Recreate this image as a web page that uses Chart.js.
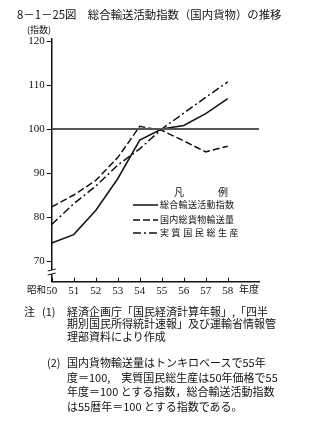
<!DOCTYPE html>
<html>
<head>
<meta charset="utf-8">
<script src="https://cdn.jsdelivr.net/npm/chart.js@4/dist/chart.umd.min.js"></script>
<style>
  body { margin: 0; background: #fff; width: 313px; height: 423px; overflow: hidden; position: relative; font-family: "Noto Sans CJK JP", sans-serif; color: #111; }
  #wrap { position: absolute; left: 0; top: 0; width: 313px; height: 300px; }
  .t { position: absolute; white-space: nowrap; line-height: 1; }
  #title { left: 17px; top: 9px; font-size: 11.4px; }
  #unit { left: 27px; top: 25px; font-size: 9px; }
  #showa { left: 27px; top: 284.5px; font-size: 9.5px; }
  #nendo { left: 239px; top: 284px; font-size: 10px; }
  #lgTitle { left: 174px; top: 187px; font-size: 10px; letter-spacing: 1px; }
  .lg { left: 160px; font-size: 9px; letter-spacing: 0.3px; }
  .note { font-size: 11px; }
</style>
</head>
<body>
<div id="wrap"><canvas id="chart" width="313" height="300"></canvas></div>
<div class="t" id="title">8－1－25図　総合輸送活動指数（国内貨物）の推移</div>
<div class="t" id="unit">(指数)</div>
<div class="t" id="showa">昭和</div>
<div class="t" id="nendo">年度</div>
<div class="t" id="lgTitle">凡　　　例</div>
<div class="t lg" style="top:200px">総合輸送活動指数</div>
<div class="t lg" style="top:215px">国内総貨物輸送量</div>
<div class="t lg" style="top:228px;letter-spacing:2.6px">実質国民総生産</div>
<div class="t note" style="left:24px;top:306px">注</div>
<div class="t note" style="left:42px;top:306px">(1)</div>
<div class="t note" style="left:67px;top:306px">経済企画庁「国民経済計算年報」,「四半</div>
<div class="t note" style="left:67px;top:318px">期別国民所得統計速報」及び運輸省情報管</div>
<div class="t note" style="left:67px;top:331px">理部資料により作成</div>
<div class="t note" style="left:47px;top:357px">(2)</div>
<div class="t note" style="left:67px;top:357px">国内貨物輸送量はトンキロベースで55年</div>
<div class="t note" style="left:67px;top:372px">度＝100,　実質国民総生産は50年価格で55</div>
<div class="t note" style="left:67px;top:386px">年度＝100 とする指数，総合輸送活動指数</div>
<div class="t note" style="left:67px;top:401px">は55暦年＝100 とする指数である。</div>
<script>
// 昭和50〜58年度
const years = [50, 51, 52, 53, 54, 55, 56, 57, 58];
const transportIndex = [74.1, 76.0, 81.5, 88.7, 97.5, 100, 100.8, 103.5, 106.9];
const freightVolume = [82.3, 85.0, 88.3, 93.5, 100.6, 99.7, 97.3, 94.8, 96.1];
const realGnp = [78.3, 83.0, 87.0, 91.8, 95.5, 100, 103.6, 107.2, 110.7];
const yTicks = [70, 80, 90, 100, 110, 120];
const baseValue = 100;

const xMin = 50, xMax = 59.42;
const yMin = 65.3, yMax = 120.5;

function pts(arr) {
    return years.map((y, i) => ({ x: y, y: arr[i] }));
}

// inward ticks on x axis, axis break mark, legend samples
const extras = {
    id: "extras",
    afterDraw(chart) {
        const ctx = chart.ctx;
        const xs = chart.scales.x, ys = chart.scales.y;
        const bottom = ys.bottom;
        ctx.save();
        ctx.strokeStyle = "#111";
        ctx.lineWidth = 1;
        years.forEach(v => {
            const px = Math.round(xs.getPixelForValue(v)) + 0.5;
            ctx.beginPath();
            ctx.moveTo(px, bottom);
            ctx.lineTo(px, bottom - 4);
            ctx.stroke();
        });
        // break mark on y axis
        const ax = xs.left;
        const by = ys.getPixelForValue(67.5);
        ctx.fillStyle = "#fff";
        ctx.fillRect(ax - 3, by - 2, 6, 4);
        ctx.beginPath();
        ctx.moveTo(ax - 4, by - 1); ctx.lineTo(ax + 4, by - 3);
        ctx.moveTo(ax - 4, by + 3); ctx.lineTo(ax + 4, by + 1);
        ctx.stroke();

        // legend line samples
        const samples = [[205, []], [220, [7, 3]], [233, [8, 3, 2, 3]]];
        ctx.lineWidth = 1.5;
        samples.forEach(([yy, dash]) => {
            ctx.setLineDash(dash);
            ctx.beginPath();
            ctx.moveTo(133, yy);
            ctx.lineTo(158, yy);
            ctx.stroke();
        });
        ctx.restore();
    }
};

new Chart(document.getElementById("chart"), {
    type: "line",
    data: {
        datasets: [
            {
                label: "基準",
                data: [{ x: 50, y: baseValue }, { x: xMax, y: baseValue }],
                borderColor: "#555",
                borderWidth: 2,
                pointRadius: 0
            },
            {
                label: "総合輸送活動指数",
                data: pts(transportIndex),
                borderColor: "#111",
                borderWidth: 1.5,
                pointRadius: 0,
                tension: 0
            },
            {
                label: "国内総貨物輸送量",
                data: pts(freightVolume),
                borderColor: "#111",
                borderWidth: 1.5,
                borderDash: [7, 3],
                pointRadius: 0,
                tension: 0
            },
            {
                label: "実質国民総生産",
                data: pts(realGnp),
                borderColor: "#111",
                borderWidth: 1.5,
                borderDash: [8, 3, 2, 3],
                pointRadius: 0,
                tension: 0
            }
        ]
    },
    options: {
        responsive: false,
        animation: false,
        layout: { padding: { left: 0, top: 38.8, right: 54, bottom: 0 } },
        plugins: { legend: { display: false }, tooltip: { enabled: false } },
        scales: {
            x: {
                type: "linear",
                min: xMin,
                max: xMax,
                afterFit: s => { s.height = 18.3; },
                afterBuildTicks: s => { s.ticks = years.map(v => ({ value: v })); },
                grid: { drawOnChartArea: false, drawTicks: false },
                border: { color: "#111", width: 1.5 },
                ticks: {
                    color: "#111",
                    padding: 3,
                    maxRotation: 0,
                    font: { family: "Liberation Serif", size: 11 },
                    callback: v => String(v)
                }
            },
            y: {
                min: yMin,
                max: yMax,
                afterFit: s => { s.width = 51.7; },
                afterBuildTicks: s => { s.ticks = yTicks.map(v => ({ value: v })); },
                grid: { drawOnChartArea: false, drawTicks: true, tickLength: 5, color: "#111" },
                border: { color: "#111", width: 1.5 },
                ticks: {
                    color: "#111",
                    padding: 2,
                    font: { family: "Liberation Serif", size: 11 },
                    callback: v => String(v)
                }
            }
        }
    },
    plugins: [extras]
});
</script>
</body>
</html>
